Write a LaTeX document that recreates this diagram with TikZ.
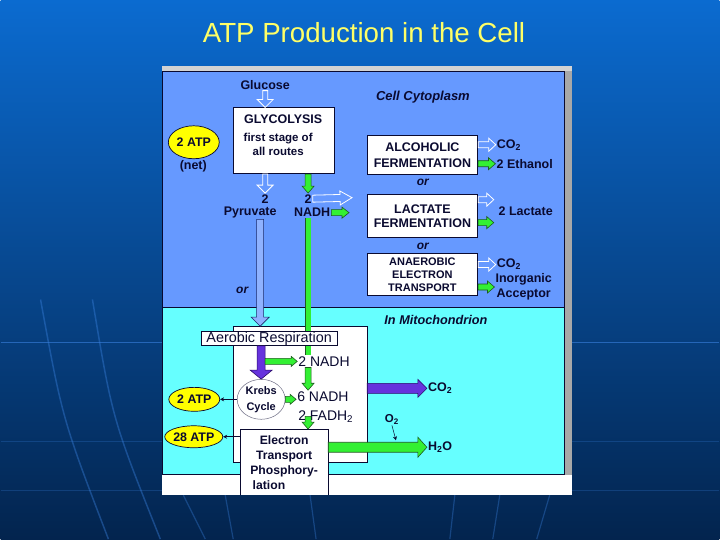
\documentclass[tikz,border=0pt]{standalone}
\usepackage{fontspec}
\setmainfont{Liberation Sans}
\usepackage{tikz}
\usetikzlibrary{shapes.geometric,arrows.meta,calc,positioning}
\definecolor{bgtop}{HTML}{0B6BD0}
\definecolor{bgbottom}{HTML}{03244E}
\definecolor{bglight}{HTML}{3A82E0}
\definecolor{titleyellow}{HTML}{FFFF66}
\definecolor{cytoblue}{HTML}{6699FF}
\definecolor{mitocyan}{HTML}{66FFFF}
\definecolor{framegray}{HTML}{A8A8A8}
\definecolor{ink}{HTML}{0A0A30}
\definecolor{atpyellow}{HTML}{FFFF00}
\definecolor{nadhgreen}{HTML}{33F033}
\definecolor{edgegreen}{HTML}{1E5A1E}
\definecolor{co2purple}{HTML}{6633DD}
\definecolor{edgepurple}{HTML}{2A0A6A}
\definecolor{pyrblue}{HTML}{8FB2FF}
\definecolor{edgeblue}{HTML}{1A2A6A}
\tikzset{
    lbl/.style={font=\bfseries\fontsize{12.5}{14}\selectfont, text=ink,
        inner sep=1pt, align=center},
    nadhlbl/.style={font=\fontsize{14}{16}\selectfont, text=ink, inner sep=1pt},
    region/.style={font=\bfseries\itshape\fontsize{13}{15}\selectfont, text=ink},
    procbox/.style={draw=ink, line width=0.7pt, fill=white, align=center,
        minimum width=111, minimum height=#1, inner sep=1pt,
        font=\bfseries\fontsize{12.5}{14}\selectfont, text=ink},
    atpoval/.style={ellipse, draw=ink, line width=0.7pt, fill=atpyellow,
        minimum width=51, minimum height=#1, inner sep=0pt,
        font=\bfseries\fontsize{12.4}{14}\selectfont, text=ink},
    hollowarrow/.style={draw=white, line width=0.8pt},
    greenarrow/.style={draw=edgegreen, fill=nadhgreen, line width=0.6pt},
    purplearrow/.style={draw=edgepurple, fill=co2purple, line width=0.6pt},
    pyrarrow/.style={draw=edgeblue, fill=pyrblue, line width=0.6pt},
    greenbar/.style={draw=edgegreen, double=nadhgreen, double distance=5pt,
        line width=0.6pt},
    thinarrow/.style={draw=ink, line width=0.7pt, -{Stealth[length=4pt, width=4pt]}},
    bgline/.style={draw=bglight, line width=#1},
}
% block arrow: style, from, to, half shaft, half head, head length
\newcommand{\blockarrow}[6]{%
    \draw[#1] let \p1=#2, \p2=#3,
        \n1={atan2(\y2-\y1,\x2-\x1)}, \n2={veclen(\x2-\x1,\y2-\y1)} in
        [shift={(\p1)}, rotate=\n1]
        (0pt,#4pt) -- ({\n2-#6pt},#4pt) -- ({\n2-#6pt},#5pt) -- (\n2,0pt)
        -- ({\n2-#6pt},-#5pt) -- ({\n2-#6pt},-#4pt) -- (0pt,-#4pt) -- cycle;
}

\begin{document}
\begin{tikzpicture}[x=1pt, y=-1pt]

    % ── Slide background ──────────────────────────────────────────────────
    \shade[top color=bgtop, bottom color=bgbottom] (0,0) rectangle (720,540);
    \foreach \yy/\op in {343/0.6, 442/0.25, 491/0.25}
        \draw[bgline=1.2pt, opacity=\op] (0,\yy) -- (720,\yy);
    \draw[bgline=1.5pt, opacity=0.4] (40,300) .. controls (62,420) .. (108,540);
    \draw[bgline=1.5pt, opacity=0.4] (92,300) .. controls (112,420) .. (160,540);
    \foreach \xa/\xb in {183/205, 225/233, 310/316, 455/450, 500/493, 550/537}
        \draw[bgline=1.2pt, opacity=0.35] (\xa,496) -- (\xb,540);

    % ── Title ─────────────────────────────────────────────────────────────
    \node[font=\fontsize{27.7}{32}\selectfont, text=titleyellow] (title)
        at (364,33) {ATP Production in the Cell};

    % ── Panel and regions ─────────────────────────────────────────────────
    \fill[white] (162,66) rectangle (572,496);
    \fill[framegray!50] (162,66) rectangle (572,71);
    \fill[framegray] (565,71) rectangle (572,476);
    \draw[fill=cytoblue, draw=ink, line width=0.6pt] (162,71) rectangle (565,308);
    \draw[fill=mitocyan, draw=ink, line width=0.6pt] (162,308) rectangle (565,475);

    \node[region] (cyto) at (423,97) {Cell Cytoplasm};
    \node[region, font=\bfseries\itshape\fontsize{12.7}{15}\selectfont]
        (mitolbl) at (436,321) {In Mitochondrion};

    % ── Glycolysis ────────────────────────────────────────────────────────
    \node[lbl] (glucose) at (265,85) {Glucose};
    \node[procbox=66, minimum width=101] (glyco) at (283.5,141) {};
    \node[lbl] (glycotitle) at (283,119) {GLYCOLYSIS};
    \node[lbl, font=\bfseries\fontsize{11.5}{14}\selectfont]
        (glycotext) at (278,145) {first stage of\\all routes};
    \node[atpoval=33] (atpnet) at (193.5,142.5) {2 ATP};
    \node[lbl] (net) at (193,167) {(net)};

    \node[lbl] (pyrtwo) at (265,199) {2};
    \node[lbl] (pyruvate) at (250,213) {Pyruvate};
    \node[lbl] (nadhtwo) at (308,199) {2};
    \node[lbl] (nadh) at (312,213) {NADH};

    \blockarrow{hollowarrow}{(glucose.south)}{(glyco.north -| glucose)}{2.5}{8}{8}
    \blockarrow{hollowarrow}{(glyco.south -| pyrtwo)}{(pyrtwo.north)}{2.5}{8}{8}
    \blockarrow{greenarrow}{(glyco.south -| nadhtwo)}{(nadhtwo.north)}{3}{6}{7}

    % ── Fermentation routes ───────────────────────────────────────────────
    \node[procbox=39] (alcohol) at (422.5,155.5) {ALCOHOLIC\\[2pt]FERMENTATION};
    \node[region, font=\bfseries\itshape\fontsize{12}{14}\selectfont]
        (ora) at (423,183) {or};
    \node[procbox=43] (lactate) at (422.5,216.5) {LACTATE\\FERMENTATION};
    \node[region, font=\bfseries\itshape\fontsize{12}{14}\selectfont]
        (orb) at (423,247) {or};
    \node[procbox=42, font=\bfseries\fontsize{11}{13}\selectfont]
        (anaerobic) at (422.5,275) {ANAEROBIC\\ELECTRON\\TRANSPORT};

    \node[lbl, anchor=west] (co2alc) at (496,145) {CO\textsubscript{2}};
    \node[lbl] (ethanol) at (525,164) {2 Ethanol};
    \node[lbl] (lactout) at (526,212) {2 Lactate};
    \node[lbl, anchor=west] (co2ana) at (496,265) {CO\textsubscript{2}};
    \node[lbl, font=\bfseries\fontsize{12.5}{15}\selectfont]
        (acceptor) at (524,287.5) {Inorganic\\Acceptor};

    \coordinate (fermin) at (352,198);
    \coordinate (fermnadh) at (349,213);
    \coordinate (lactco) at (494,200);
    \coordinate (lactgreen) at (494,223);

    \blockarrow{hollowarrow}{(nadhtwo.east)}{(fermin)}{3.5}{7}{12}
    \blockarrow{greenarrow}{(nadh.east)}{(fermnadh)}{3}{5.5}{7}
    \blockarrow{hollowarrow}{(alcohol.east |- co2alc)}{(co2alc.west)}{3}{6.5}{7}
    \blockarrow{greenarrow}{(alcohol.east |- ethanol)}{(ethanol.west)}{3}{6}{7}
    \blockarrow{hollowarrow}{(lactate.east |- lactco)}{(lactco)}{3}{6.5}{7}
    \blockarrow{greenarrow}{(lactate.east |- lactgreen)}{(lactgreen)}{3}{6}{7}
    \blockarrow{hollowarrow}{(anaerobic.east |- co2ana)}{(co2ana.west)}{3}{6.5}{7}
    \blockarrow{greenarrow}{(anaerobic.east |- acceptor.west)}{(acceptor.west)}{3}{6}{7}

    % ── Aerobic respiration ───────────────────────────────────────────────
    \node[draw=ink, line width=0.6pt, fill=white, minimum width=134,
        minimum height=136] (mito) at (300,395) {};
    \node[region, font=\bfseries\itshape\fontsize{12}{14}\selectfont]
        (orc) at (242,291) {or};
    \node[nadhlbl] (mnadh) at (324,362) {2 NADH};

    \draw[greenbar] (nadh.south -| nadhtwo) -- (mnadh.north -| nadhtwo);
    \blockarrow{pyrarrow}{([xshift=10]pyruvate.south)}
        {([xshift=10]pyruvate.south |- mito.north)}{3.5}{9}{9}

    \node[draw=ink, line width=0.6pt, fill=white, inner sep=0.5pt,
        minimum width=136, minimum height=14, text=ink,
        font=\fontsize{14.4}{16}\selectfont] (aerobic) at (269,339)
        {Aerobic Respiration};

    \node[ellipse, draw=ink!60, line width=0.5pt, fill=white, minimum width=48,
        minimum height=40, inner sep=0pt, align=center, text=ink,
        font=\bfseries\fontsize{11}{16}\selectfont] (krebs) at (261,400)
        {Krebs\\Cycle};
    \node[nadhlbl, anchor=west] (sixnadh) at (296,397) {6 NADH};
    \node[nadhlbl, anchor=west] (fadh) at (297,417) {2 FADH\textsubscript{2}};

    \node[fill=white, minimum width=88, minimum height=66, inner sep=0pt,
        align=center, text=ink, font=\bfseries\fontsize{12.2}{15}\selectfont]
        (etp) at (284,463)
        {Electron\\Transport\\Phosphory-\\\makebox[67pt][l]{\,lation}};
    \draw[ink, line width=0.6pt]
        (etp.south west) -- (etp.north west) -- (etp.north east) -- (etp.south east);

    \node[atpoval=24] (atpkrebs) at (194,400) {2 ATP};
    \node[atpoval=22] (atpetp) at (193.5,437.5) {28 ATP};
    \node[lbl, anchor=west] (co2mito) at (427,389) {CO\textsubscript{2}};
    \node[lbl, font=\bfseries\fontsize{11.5}{14}\selectfont] (otwo)
        at (392,420) {O\textsubscript{2}};
    \node[lbl, anchor=west] (htwoo) at (427,448) {H\textsubscript{2}O};
    \coordinate (otwoin) at (396,441);

    \blockarrow{purplearrow}{(aerobic.south -| krebs)}{(krebs.north)}{4}{11}{9}
    \blockarrow{greenarrow}{([xshift=4]krebs.north |- mnadh)}{(mnadh.west)}{3}{5}{6}
    \blockarrow{greenarrow}{(mnadh.south -| nadhtwo)}{(sixnadh.north -| nadhtwo)}{3}{6}{7}
    \blockarrow{greenarrow}{(krebs.east)}{(krebs.east -| sixnadh.west)}{3}{5}{6}
    \blockarrow{greenarrow}{(fadh.center -| nadhtwo)}{(etp.north -| nadhtwo)}{3}{6}{7}
    \blockarrow{purplearrow}{(mito.east |- co2mito)}{(co2mito.west)}{5}{9}{9}
    \blockarrow{greenarrow}{(etp.east |- htwoo)}{(htwoo.west)}{5}{10}{9}

    \draw[thinarrow] (krebs.west) -- (atpkrebs.east);
    \draw[thinarrow] (etp.west |- atpetp) -- (atpetp.east);
    \draw[thinarrow, line width=0.5pt] (otwo.south) -- (otwoin);

\end{tikzpicture}
\end{document}
